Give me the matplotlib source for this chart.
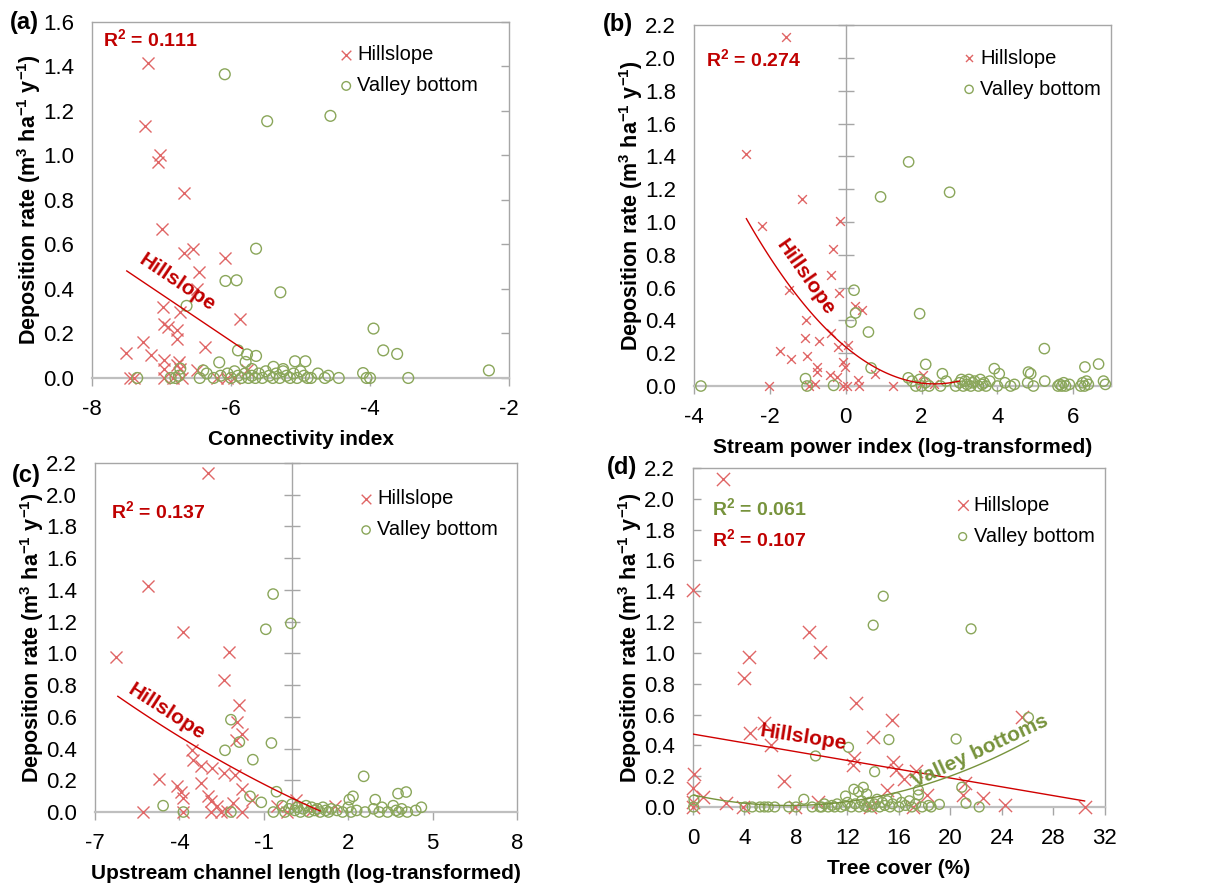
import numpy as np
import matplotlib
matplotlib.use("Agg")
import matplotlib.pyplot as plt

plt.rcParams['font.family'] = ['Liberation Sans', 'DejaVu Sans']
plt.rcParams['mathtext.fontset'] = 'custom'
plt.rcParams['mathtext.rm'] = 'Liberation Sans'
plt.rcParams['mathtext.bf'] = 'Liberation Sans:bold'
plt.rcParams['axes.unicode_minus'] = False

# ---------------- data ----------------
# (a) connectivity index
hill_a_x = [-7.20, -7.24, -7.02, -7.05, -6.67, -6.99, -6.68, -6.54, -6.09, -6.46, -6.49, -5.87,
            -6.98, -6.73, -6.97, -6.91, -6.78, -6.78, -7.27, -6.38, -7.51, -7.15, -6.97, -6.75,
            -6.78, -6.97, -6.73, -6.49, -5.77, -7.46, -7.40, -6.97, -6.83, -6.71, -6.20, -6.06, -5.96]
hill_a_y = [1.416, 1.133, 1.004, 0.971, 0.831, 0.670, 0.563, 0.578, 0.541, 0.476, 0.400, 0.267,
            0.319, 0.297, 0.241, 0.229, 0.214, 0.177, 0.162, 0.139, 0.112, 0.105, 0.079, 0.072,
            0.057, 0.042, 0.042, 0.034, 0.034, 0.0, 0.0, 0.0, 0.0, 0.0, 0.0, 0.0, 0.0]
valley_a_x = [-6.09, -5.48, -4.57, -5.64, -6.08, -5.92, -5.29, -6.64, -3.95, -3.81, -3.61, -2.29,
              -5.90, -5.77, -5.64, -6.17, -5.08, -4.93, -5.79, -4.10, -6.40, -5.39, -6.73,
              -7.35, -6.87, -6.80, -6.75, -6.45, -6.35, -6.25, -6.15, -6.05, -6.00, -5.95, -5.90,
              -5.85, -5.80, -5.75, -5.70, -5.65, -5.60, -5.55, -5.50, -5.45, -5.40, -5.35, -5.30,
              -5.25, -5.20, -5.15, -5.10, -5.05, -5.00, -4.95, -4.85, -4.75, -4.65, -4.60, -4.45,
              -4.05, -4.00, -3.45, -5.70, -5.25, -4.90]
valley_a_y = [1.365, 1.154, 1.178, 0.581, 0.436, 0.439, 0.385, 0.324, 0.222, 0.124, 0.108, 0.034,
              0.124, 0.106, 0.099, 0.070, 0.075, 0.075, 0.072, 0.022, 0.034, 0.050, 0.042,
              0.0, 0.0, 0.0, 0.01, 0.0, 0.02, 0.0, 0.01, 0.02, 0.0, 0.03, 0.01,
              0.0, 0.02, 0.0, 0.01, 0.0, 0.02, 0.0, 0.03, 0.01, 0.0, 0.02, 0.0,
              0.03, 0.01, 0.0, 0.02, 0.0, 0.03, 0.01, 0.0, 0.02, 0.0, 0.01, 0.0,
              0.0, 0.0, 0.0, 0.04, 0.04, 0.0]
fit_a = [-0.210, -1.094]          # linear, hillslope
fit_a_range = [-7.50, -5.84]

# (b) stream power index
hill_b_x = [-1.57, -2.62, -1.14, -2.22, -0.16, -0.33, -0.38, -1.50, -0.18, 0.24, 0.43, -1.05,
            -0.38, -1.08, -0.70, -0.19, 0.07, -1.72, -1.44, -1.03, -0.08, -0.03, -0.76, -0.76,
            -0.42, -0.23, 0.32, 0.76, 2.04, -0.80, -2.03, -0.97, -0.08, 0.04, 0.34, 1.24, 2.33, 1.98]
hill_b_y = [2.129, 1.417, 1.137, 0.976, 1.007, 0.838, 0.679, 0.586, 0.567, 0.486, 0.462, 0.405,
            0.323, 0.291, 0.277, 0.238, 0.248, 0.211, 0.167, 0.181, 0.146, 0.116, 0.116, 0.085,
            0.065, 0.055, 0.039, 0.075, 0.065, 0.014, 0.0, 0.0, 0.0, 0.0, 0.0, 0.0, 0.014, 0.014]
valley_b_x = [1.66, 0.92, 2.74, 0.22, 0.26, 0.14, 0.60, 1.95, 5.24, 2.11, 0.67, 6.67, 6.31, 3.92,
              4.05, 4.82, 4.88, 2.55, -1.06, -3.82, -1.02, -0.32,
              1.65, 1.75, 1.85, 1.95, 2.00, 2.10, 2.20, 2.50, 2.65,
              2.90, 3.00, 3.05, 3.10, 3.15, 3.20, 3.25, 3.30, 3.35, 3.40, 3.50, 3.55, 3.60, 3.65,
              3.70, 3.80, 4.00, 4.20, 4.35, 4.45, 4.80, 4.95, 5.25, 5.60, 5.65, 5.70, 5.75, 5.80,
              5.90, 6.20, 6.25, 6.30, 6.35, 6.40, 6.80, 6.85]
valley_b_y = [1.366, 1.153, 1.181, 0.584, 0.445, 0.390, 0.329, 0.441, 0.228, 0.132, 0.110, 0.134,
              0.116, 0.106, 0.075, 0.085, 0.075, 0.075, 0.045, 0.0, 0.0, 0.004,
              0.05, 0.03, 0.0, 0.04, 0.0, 0.02, 0.0, 0.0, 0.03,
              0.0, 0.02, 0.04, 0.0, 0.03, 0.01, 0.04, 0.0, 0.02, 0.03, 0.0, 0.04, 0.01, 0.02,
              0.0, 0.03, 0.0, 0.02, 0.0, 0.01, 0.02, 0.0, 0.03, 0.0, 0.01, 0.0, 0.02, 0.0,
              0.01, 0.0, 0.02, 0.0, 0.03, 0.01, 0.03, 0.01]
fit_b = [0.0408, -0.1916, 0.238]  # quadratic, hillslope
fit_b_range = [-2.62, 3.0]

# (c) upstream channel length
hill_c_x = [-3.00, -5.13, -3.89, -6.24, -2.23, -2.40, -1.89, -1.96, -1.77, -2.00, -3.54, -3.50,
            -3.23, -2.83, -2.41, -2.01, -4.72, -4.07, -3.24, -1.76, -3.94, -3.00, -3.89, -2.89,
            -2.10, -2.65, -1.41, -0.54, 0.15, 1.54, -5.30, -3.86, -2.87, -2.52, -1.76, -0.18,
            0.71, -2.32]
hill_c_y = [2.135, 1.423, 1.137, 0.975, 1.006, 0.834, 0.675, 0.569, 0.494, 0.456, 0.389, 0.330,
            0.288, 0.277, 0.246, 0.235, 0.208, 0.166, 0.183, 0.145, 0.124, 0.103, 0.088, 0.067,
            0.057, 0.036, 0.078, 0.036, 0.078, 0.040, 0.0, 0.0, 0.0, 0.0, 0.0, 0.0,
            0.015, 0.004]
valley_c_x = [-0.67, -0.93, -0.04, -2.17, -1.87, -0.73, -2.38, -1.39, 2.55, 4.06, 3.77, 2.96,
              2.17, 2.04, -0.55, -1.49, -1.09, -4.58, -3.86, -2.17, -0.66,
              -0.35, -0.25, -0.10, 0.00, 0.10, 0.20, 0.30, 0.40, 0.50, 0.60, 0.70, 0.80, 0.90,
              1.00, 1.10, 1.20, 1.30, 1.40, 1.60, 1.80, 2.00, 2.10, 2.30, 2.60, 2.90, 3.10,
              3.20, 3.40, 3.60, 3.70, 3.80, 3.90, 4.10, 4.40, 4.60]
valley_c_y = [1.374, 1.152, 1.189, 0.582, 0.441, 0.435, 0.389, 0.330, 0.225, 0.126, 0.116, 0.078,
              0.099, 0.078, 0.128, 0.099, 0.061, 0.040, 0.0, 0.0, 0.0,
              0.04, 0.0, 0.02, 0.05, 0.01, 0.03, 0.0, 0.02, 0.04, 0.0, 0.03, 0.01, 0.02,
              0.0, 0.03, 0.01, 0.0, 0.02, 0.01, 0.0, 0.03, 0.0, 0.01, 0.0, 0.02, 0.0,
              0.03, 0.0, 0.04, 0.01, 0.0, 0.02, 0.0, 0.01, 0.03]
fit_c = [0.00309, -0.0845, 0.088]  # quadratic, hillslope
fit_c_range = [-6.19, 1.0]

# (d) tree cover
hill_d_x = [2.31, 0.03, 9.02, 9.88, 4.33, 3.94, 12.66, 15.46, 25.54, 5.55, 4.43, 14.00, 6.04,
            12.47, 12.40, 15.51, 15.77, 17.30, 16.39, 7.08, 0.10, 0.03, 21.14, 15.04, 18.15,
            20.95, 0.78, 22.56, 2.57, 24.22, 30.42, 0.03, 3.89, 7.91, 9.73, 17.12, 13.75, 0.0]
hill_d_y = [2.129, 1.411, 1.137, 1.003, 0.975, 0.834, 0.676, 0.564, 0.586, 0.542, 0.478, 0.456,
            0.402, 0.316, 0.272, 0.294, 0.240, 0.233, 0.179, 0.169, 0.214, 0.121, 0.153, 0.110,
            0.078, 0.078, 0.067, 0.056, 0.024, 0.013, 0.0, 0.0, 0.0, 0.0, 0.035, 0.0, 0.0, 0.03]
valley_d_x = [14.78, 14.00, 21.60, 26.06, 20.44, 15.22, 12.08, 9.52, 14.11, 20.88, 12.50, 13.23,
              12.86, 17.51, 17.51, 13.49, 11.85, 8.61, 0.08, 21.21, 22.23, 19.14,
              0.05, 4.05, 4.60, 5.20, 5.55, 5.85, 6.35, 7.44, 8.00, 9.26, 9.85,
              10.0, 10.2, 10.5, 10.8, 11.0, 11.2, 11.5, 11.8, 12.0, 12.3, 12.6, 12.9, 13.1, 13.3,
              13.5, 13.7, 13.9, 14.1, 14.3, 14.5, 14.7, 14.9, 15.1, 15.3, 15.5, 15.8, 16.0, 16.2,
              16.5, 16.8, 17.0, 17.3, 17.8, 18.3, 18.5]
valley_d_y = [1.368, 1.180, 1.156, 0.581, 0.441, 0.437, 0.387, 0.331, 0.229, 0.128, 0.115, 0.128,
              0.099, 0.110, 0.078, 0.084, 0.071, 0.050, 0.045, 0.024, 0.0, 0.017,
              0.0, 0.0, 0.0, 0.0, 0.0, 0.0, 0.0, 0.0, 0.0, 0.0, 0.0,
              0.0, 0.02, 0.0, 0.01, 0.0, 0.02, 0.0, 0.01, 0.03, 0.0, 0.02, 0.0, 0.04, 0.01,
              0.0, 0.03, 0.0, 0.02, 0.05, 0.0, 0.03, 0.01, 0.04, 0.0, 0.02, 0.06, 0.0, 0.03,
              0.01, 0.04, 0.0, 0.02, 0.0, 0.01, 0.0]
fit_d_hill = [-0.01427, 0.473]          # linear
fit_d_hill_range = [0.0, 30.42]
fit_d_valley = [0.001219, -0.01825, 0.078]  # quadratic
fit_d_valley_range = [0.0, 26.06]

# ---------------- style ----------------
RED_MK = '#E06666'
GRN_MK = '#8AA65A'
RED_TXT = '#C00000'
GRN_TXT = '#77933C'
RED_LN = '#D00000'
GRN_LN = '#77933C'
FRAME = '#A6A6A6'
YLABEL = r'Deposition rate (m$^\mathbf{3}$ ha$^\mathbf{-1}$ y$^\mathbf{-1}$)'

fig = plt.figure(figsize=(12.06, 8.86), dpi=100)


def setup(ax, xlim, xticks, ylim, yticks, xlabel, mode):
    ax.set_xlim(xlim)
    ax.set_ylim(ylim)
    ax.set_xticks(xticks)
    ax.set_yticks(yticks)
    ax.set_yticklabels([f"{t:.1f}" for t in yticks])
    ax.set_xticklabels([f"{t:g}" for t in xticks])
    for sp in ax.spines.values():
        sp.set_color(FRAME)
        sp.set_linewidth(1.0)
    ax.spines['bottom'].set_color('#BFBFBF')
    ax.spines['bottom'].set_linewidth(1.6)
    ax.tick_params(axis='x', direction='out', length=6, width=1, color=FRAME,
                   labelsize=16, pad=9)
    if mode == 'right':
        ax.tick_params(axis='y', left=True, right=True, labelleft=True, direction='in',
                       length=6, width=1, color=FRAME, labelsize=16, pad=13)
    elif mode == 'zero':
        # vertical axis crossing at x=0 with cross ticks
        ax.spines['right'].set_position(('data', 0))
        ax.plot([1, 1], [0, 1], transform=ax.transAxes, color=FRAME, lw=1.0, clip_on=False)
        ax.tick_params(axis='y', left=True, right=True, labelleft=True, labelright=False,
                       direction='in', length=6, width=1, color=FRAME,
                       labelsize=16, pad=13)
    else:
        ax.tick_params(axis='y', direction='in', length=6, width=1, color=FRAME,
                       labelsize=16, pad=13)
    if mode in ('right', 'zero'):
        # hide the tick marks on the left edge, keep the labels there
        for t in ax.yaxis.get_major_ticks():
            t.tick1line.set_visible(False)
            if mode == 'zero':
                t.tick2line.set_marker('_')
                t.tick2line.set_markersize(12)
    ax.set_xlabel(xlabel, fontsize=15, fontweight='bold', labelpad=7)
    ax.set_ylabel(YLABEL, fontsize=15.5, fontweight='bold', labelpad=0)


def scatter(ax, hx, hy, vx, vy, xs=60, os=50):
    ax.scatter(hx, hy, marker='x', s=xs, color=RED_MK, linewidths=1.0, clip_on=False,
               zorder=3, label='Hillslope')
    ax.scatter(vx, vy, marker='o', s=os, facecolors='none', edgecolors=GRN_MK,
               linewidths=1.0, clip_on=False, zorder=3, label='Valley bottom')


def legend(ax, x, y):
    ax.legend(loc='upper left', bbox_to_anchor=(x, y), frameon=False, fontsize=14.5,
              handlelength=0.6, handletextpad=0.25, labelspacing=0.6, borderpad=0,
              borderaxespad=0, markerscale=0.8)


# (a)
ax = fig.add_axes([0.0763, 0.5734, 0.3458, 0.4018])
scatter(ax, hill_a_x, hill_a_y, valley_a_x, valley_a_y, xs=75, os=60)
xf = np.linspace(fit_a_range[0], fit_a_range[1], 50)
ax.plot(xf, np.polyval(fit_a, xf), color=RED_LN, lw=1.0, zorder=4)
ax.text(-6.78, 0.43, 'Hillslope', color=RED_TXT, fontsize=15, fontweight='bold',
        rotation=-34, ha='center', va='center', zorder=5)
ax.text(0.026, 0.949, r'R$^\mathbf{2}$ = 0.111', transform=ax.transAxes, color=RED_TXT,
        fontsize=14, fontweight='bold', va='center')
setup(ax, (-8, -2), [-8, -6, -4, -2], (0, 1.6), np.arange(0, 1.61, 0.2),
      'Connectivity index', 'right')
legend(ax, 0.595, 0.935)
fig.text(0.008, 0.975, '(a)', fontsize=17, fontweight='bold', va='center')

# (b)
ax = fig.add_axes([0.5755, 0.5643, 0.3458, 0.4074])
scatter(ax, hill_b_x, hill_b_y, valley_b_x, valley_b_y, xs=40, os=55)
xf = np.linspace(fit_b_range[0], fit_b_range[1], 100)
ax.plot(xf, np.polyval(fit_b, xf), color=RED_LN, lw=1.0, zorder=4)
ax.text(-1.05, 0.66, 'Hillslope', color=RED_TXT, fontsize=15, fontweight='bold',
        rotation=-55, ha='center', va='center', zorder=5)
ax.text(0.029, 0.903, r'R$^\mathbf{2}$ = 0.274', transform=ax.transAxes, color=RED_TXT,
        fontsize=14, fontweight='bold', va='center')
setup(ax, (-4, 7), [-4, -2, 0, 2, 4, 6], (0, 2.2), np.arange(0, 2.21, 0.2),
      'Stream power index (log-transformed)', 'zero')
legend(ax, 0.645, 0.935)
fig.text(0.5, 0.972, '(b)', fontsize=17, fontweight='bold', va='center')

# (c)
ax = fig.add_axes([0.0788, 0.0835, 0.3499, 0.3939])
scatter(ax, hill_c_x, hill_c_y, valley_c_x, valley_c_y, xs=75, os=55)
xf = np.linspace(fit_c_range[0], fit_c_range[1], 100)
ax.plot(xf, np.polyval(fit_c, xf), color=RED_LN, lw=1.0, zorder=4)
ax.text(-4.45, 0.63, 'Hillslope', color=RED_TXT, fontsize=15, fontweight='bold',
        rotation=-33, ha='center', va='center', zorder=5)
ax.text(0.038, 0.86, r'R$^\mathbf{2}$ = 0.137', transform=ax.transAxes, color=RED_TXT,
        fontsize=14, fontweight='bold', va='center')
setup(ax, (-7, 8), [-7, -4, -1, 2, 5, 8], (0, 2.2), np.arange(0, 2.21, 0.2),
      'Upstream channel length (log-transformed)', 'zero')
legend(ax, 0.628, 0.925)
fig.text(0.010, 0.463, '(c)', fontsize=17, fontweight='bold', va='center')

# (d)
ax = fig.add_axes([0.5746, 0.0892, 0.3416, 0.3826])
scatter(ax, hill_d_x, hill_d_y, valley_d_x, valley_d_y, xs=90, os=50)
xf = np.linspace(fit_d_hill_range[0], fit_d_hill_range[1], 50)
ax.plot(xf, np.polyval(fit_d_hill, xf), color=RED_LN, lw=1.0, zorder=4)
xf = np.linspace(fit_d_valley_range[0], fit_d_valley_range[1], 100)
ax.plot(xf, np.polyval(fit_d_valley, xf), color=GRN_LN, lw=1.0, zorder=4)
ax.text(8.6, 0.45, 'Hillslope', color=RED_TXT, fontsize=15, fontweight='bold',
        rotation=-9, ha='center', va='center', zorder=5)
ax.text(22.3, 0.36, 'Valley bottoms', color=GRN_TXT, fontsize=15, fontweight='bold',
        rotation=25, ha='center', va='center', zorder=5)
ax.text(0.046, 0.879, r'R$^\mathbf{2}$ = 0.061', transform=ax.transAxes, color=GRN_TXT,
        fontsize=14, fontweight='bold', va='center')
ax.text(0.046, 0.788, r'R$^\mathbf{2}$ = 0.107', transform=ax.transAxes, color=RED_TXT,
        fontsize=14, fontweight='bold', va='center')
setup(ax, (0, 32), list(range(0, 33, 4)), (0, 2.2), np.arange(0, 2.21, 0.2),
      'Tree cover (%)', 'left')
legend(ax, 0.64, 0.918)
fig.text(0.503, 0.472, '(d)', fontsize=17, fontweight='bold', va='center')

fig.savefig('out.png', dpi=100)
